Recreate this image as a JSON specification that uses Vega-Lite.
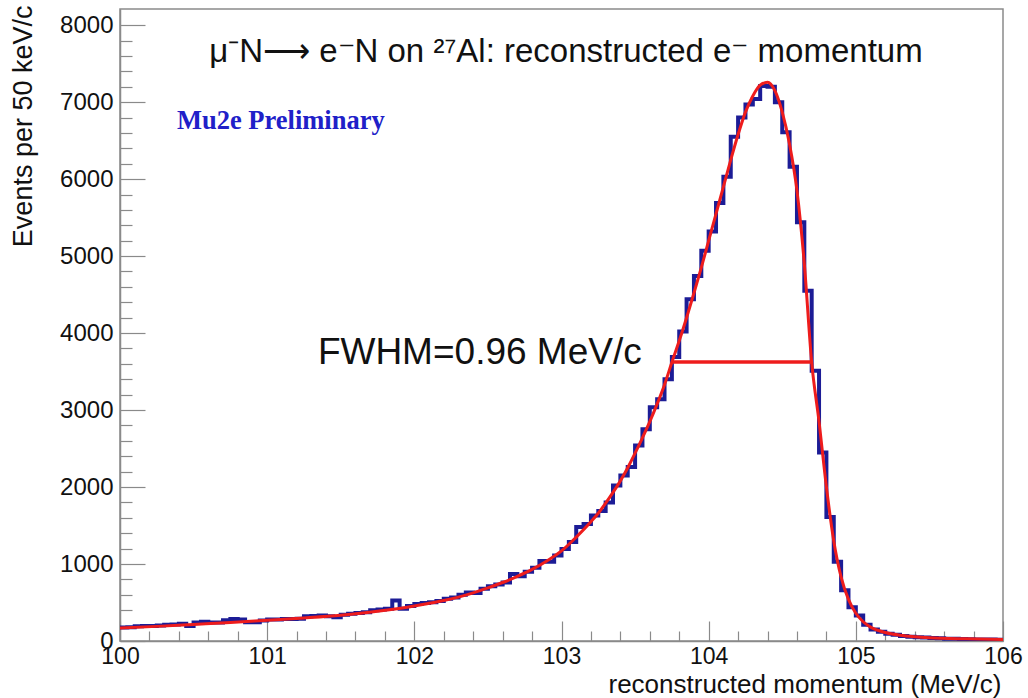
{
  "$schema": "https://vega.github.io/schema/vega-lite/v6.json",
  "width": 883,
  "height": 632,
  "autosize": {"type": "none"},
  "padding": {"left": 120, "top": 9, "right": 25, "bottom": 57},
  "background": "white",
  "config": {
    "view": {"stroke": "#8a8a8a", "strokeWidth": 1.5},
    "font": "Liberation Sans"
  },
  "datasets": {
    "hist": [
      {"p": 100.00, "n": 175}, {"p": 100.05, "n": 180}, {"p": 100.10, "n": 190}, {"p": 100.15, "n": 195},
      {"p": 100.20, "n": 195}, {"p": 100.25, "n": 200}, {"p": 100.30, "n": 210}, {"p": 100.35, "n": 215},
      {"p": 100.40, "n": 225}, {"p": 100.45, "n": 195}, {"p": 100.50, "n": 240}, {"p": 100.55, "n": 250},
      {"p": 100.60, "n": 240}, {"p": 100.65, "n": 240}, {"p": 100.70, "n": 270}, {"p": 100.75, "n": 285},
      {"p": 100.80, "n": 280}, {"p": 100.85, "n": 245}, {"p": 100.90, "n": 245}, {"p": 100.95, "n": 265},
      {"p": 101.00, "n": 280}, {"p": 101.05, "n": 280}, {"p": 101.10, "n": 285}, {"p": 101.15, "n": 285},
      {"p": 101.20, "n": 290}, {"p": 101.25, "n": 320}, {"p": 101.30, "n": 325}, {"p": 101.35, "n": 330},
      {"p": 101.40, "n": 320}, {"p": 101.45, "n": 310}, {"p": 101.50, "n": 340}, {"p": 101.55, "n": 355},
      {"p": 101.60, "n": 365}, {"p": 101.65, "n": 375}, {"p": 101.70, "n": 400}, {"p": 101.75, "n": 410},
      {"p": 101.80, "n": 420}, {"p": 101.85, "n": 525}, {"p": 101.90, "n": 420}, {"p": 101.95, "n": 455},
      {"p": 102.00, "n": 480}, {"p": 102.05, "n": 495}, {"p": 102.10, "n": 505}, {"p": 102.15, "n": 520},
      {"p": 102.20, "n": 550}, {"p": 102.25, "n": 565}, {"p": 102.30, "n": 600}, {"p": 102.35, "n": 630},
      {"p": 102.40, "n": 625}, {"p": 102.45, "n": 680}, {"p": 102.50, "n": 710}, {"p": 102.55, "n": 735},
      {"p": 102.60, "n": 760}, {"p": 102.65, "n": 870}, {"p": 102.70, "n": 840}, {"p": 102.75, "n": 900},
      {"p": 102.80, "n": 950}, {"p": 102.85, "n": 1040}, {"p": 102.90, "n": 1030}, {"p": 102.95, "n": 1110},
      {"p": 103.00, "n": 1195}, {"p": 103.05, "n": 1285}, {"p": 103.10, "n": 1480}, {"p": 103.15, "n": 1520},
      {"p": 103.20, "n": 1630}, {"p": 103.25, "n": 1690}, {"p": 103.30, "n": 1800}, {"p": 103.35, "n": 2020},
      {"p": 103.40, "n": 2150}, {"p": 103.45, "n": 2260}, {"p": 103.50, "n": 2540}, {"p": 103.55, "n": 2750},
      {"p": 103.60, "n": 3035}, {"p": 103.65, "n": 3140}, {"p": 103.70, "n": 3400}, {"p": 103.75, "n": 3690},
      {"p": 103.80, "n": 4020}, {"p": 103.85, "n": 4440}, {"p": 103.90, "n": 4740}, {"p": 103.95, "n": 5070},
      {"p": 104.00, "n": 5320}, {"p": 104.05, "n": 5690}, {"p": 104.10, "n": 6030}, {"p": 104.15, "n": 6550},
      {"p": 104.20, "n": 6800}, {"p": 104.25, "n": 6970}, {"p": 104.30, "n": 7040}, {"p": 104.35, "n": 7210},
      {"p": 104.40, "n": 7200}, {"p": 104.45, "n": 7000}, {"p": 104.50, "n": 6610}, {"p": 104.55, "n": 6160},
      {"p": 104.60, "n": 5440}, {"p": 104.65, "n": 4550}, {"p": 104.70, "n": 3510}, {"p": 104.75, "n": 2450},
      {"p": 104.80, "n": 1610}, {"p": 104.85, "n": 1030}, {"p": 104.90, "n": 660}, {"p": 104.95, "n": 440},
      {"p": 105.00, "n": 330}, {"p": 105.05, "n": 210}, {"p": 105.10, "n": 150}, {"p": 105.15, "n": 120},
      {"p": 105.20, "n": 95}, {"p": 105.25, "n": 80}, {"p": 105.30, "n": 65}, {"p": 105.35, "n": 55},
      {"p": 105.40, "n": 50}, {"p": 105.45, "n": 45}, {"p": 105.50, "n": 40}, {"p": 105.55, "n": 35},
      {"p": 105.60, "n": 30}, {"p": 105.65, "n": 28}, {"p": 105.70, "n": 25}, {"p": 105.75, "n": 22},
      {"p": 105.80, "n": 20}, {"p": 105.85, "n": 20}, {"p": 105.90, "n": 18}, {"p": 105.95, "n": 15},
      {"p": 106.00, "n": 15}
    ],
    "fit": [
      {"p": 100.0, "f": 170}, {"p": 100.25, "f": 190}, {"p": 100.5, "f": 215}, {"p": 100.75, "f": 240},
      {"p": 101.0, "f": 270}, {"p": 101.25, "f": 300}, {"p": 101.5, "f": 335}, {"p": 101.75, "f": 385},
      {"p": 102.0, "f": 455}, {"p": 102.1, "f": 490}, {"p": 102.2, "f": 525}, {"p": 102.3, "f": 570},
      {"p": 102.4, "f": 625}, {"p": 102.5, "f": 690}, {"p": 102.6, "f": 760}, {"p": 102.7, "f": 840},
      {"p": 102.8, "f": 930}, {"p": 102.9, "f": 1040}, {"p": 103.0, "f": 1170}, {"p": 103.1, "f": 1350},
      {"p": 103.2, "f": 1550}, {"p": 103.25, "f": 1660}, {"p": 103.3, "f": 1790}, {"p": 103.35, "f": 1930},
      {"p": 103.4, "f": 2080}, {"p": 103.45, "f": 2250}, {"p": 103.5, "f": 2440}, {"p": 103.55, "f": 2640},
      {"p": 103.6, "f": 2850}, {"p": 103.65, "f": 3080}, {"p": 103.7, "f": 3330}, {"p": 103.75, "f": 3620},
      {"p": 103.8, "f": 3900}, {"p": 103.85, "f": 4200}, {"p": 103.9, "f": 4520}, {"p": 103.95, "f": 4850},
      {"p": 104.0, "f": 5200}, {"p": 104.05, "f": 5550}, {"p": 104.1, "f": 5900}, {"p": 104.15, "f": 6250},
      {"p": 104.2, "f": 6580}, {"p": 104.25, "f": 6870}, {"p": 104.3, "f": 7080}, {"p": 104.35, "f": 7220},
      {"p": 104.4, "f": 7260}, {"p": 104.45, "f": 7150}, {"p": 104.5, "f": 6870}, {"p": 104.55, "f": 6450},
      {"p": 104.6, "f": 5850}, {"p": 104.65, "f": 4900}, {"p": 104.7, "f": 3620}, {"p": 104.75, "f": 2850},
      {"p": 104.8, "f": 2000}, {"p": 104.85, "f": 1300}, {"p": 104.9, "f": 830}, {"p": 104.95, "f": 540},
      {"p": 105.0, "f": 360}, {"p": 105.05, "f": 250}, {"p": 105.1, "f": 180}, {"p": 105.2, "f": 110},
      {"p": 105.3, "f": 75}, {"p": 105.4, "f": 55}, {"p": 105.5, "f": 42}, {"p": 105.75, "f": 28},
      {"p": 106.0, "f": 20}
    ],
    "fwhm": [{"lo": 103.754, "hi": 104.698, "half": 3625}]
  },
  "layer": [
    {
      "data": {"name": "hist"},
      "mark": {"type": "line", "interpolate": "step-after", "color": "#1c1c96", "strokeWidth": 4, "clip": true},
      "encoding": {
        "x": {
          "field": "p", "type": "quantitative",
          "scale": {"domain": [100, 106], "nice": false, "zero": false},
          "axis": {
            "values": [100, 100.2, 100.4, 100.6, 100.8, 101, 101.2, 101.4, 101.6, 101.8, 102, 102.2, 102.4, 102.6, 102.8, 103, 103.2, 103.4, 103.6, 103.8, 104, 104.2, 104.4, 104.6, 104.8, 105, 105.2, 105.4, 105.6, 105.8, 106],
            "tickCount": 200,
            "labelExpr": "abs(datum.value - round(datum.value)) < 0.001 ? format(datum.value, 'd') : ''",
            "tickSize": {"condition": {"test": "abs(datum.value - round(datum.value)) < 0.001", "value": -20}, "value": -10},
            "labelPadding": 24,
            "labelOverlap": false,
            "labelFlush": false,
            "labelFont": "Liberation Sans",
            "labelFontSize": 23,
            "labelColor": "#111",
            "domainColor": "#8a8a8a",
            "domainWidth": 1.5,
            "tickColor": "#8a8a8a",
            "tickWidth": 1.2,
            "grid": false,
            "title": "reconstructed momentum (MeV/c)",
            "titleFont": "Liberation Sans",
            "titleFontSize": 26,
            "titleFontWeight": "normal",
            "titleColor": "#111",
            "titleAlign": "right",
            "titleBaseline": "alphabetic",
            "titleX": 881,
            "titleY": 51
          }
        },
        "y": {
          "field": "n", "type": "quantitative",
          "scale": {"domain": [0, 8210], "nice": false},
          "axis": {
            "values": [0, 200, 400, 600, 800, 1000, 1200, 1400, 1600, 1800, 2000, 2200, 2400, 2600, 2800, 3000, 3200, 3400, 3600, 3800, 4000, 4200, 4400, 4600, 4800, 5000, 5200, 5400, 5600, 5800, 6000, 6200, 6400, 6600, 6800, 7000, 7200, 7400, 7600, 7800, 8000],
            "tickCount": 200,
            "labelExpr": "datum.value % 1000 === 0 ? format(datum.value, 'd') : ''",
            "tickSize": {"condition": {"test": "datum.value % 1000 === 0", "value": -25}, "value": -12},
            "labelPadding": 32,
            "labelOverlap": false,
            "labelFlush": false,
            "labelFont": "Liberation Sans",
            "labelFontSize": 24,
            "labelColor": "#111",
            "domainColor": "#8a8a8a",
            "domainWidth": 1.5,
            "tickColor": "#8a8a8a",
            "tickWidth": 1.2,
            "grid": false,
            "title": "Events per 50 keV/c",
            "titleFont": "Liberation Sans",
            "titleFontSize": 27,
            "titleFontWeight": "normal",
            "titleColor": "#111",
            "titleAngle": -90,
            "titleAlign": "right",
            "titleBaseline": "middle",
            "titleX": -97,
            "titleY": -4
          }
        }
      }
    },
    {
      "data": {"name": "fit"},
      "mark": {"type": "line", "interpolate": "monotone", "color": "#ee1c1c", "strokeWidth": 3, "clip": true},
      "encoding": {
        "x": {"field": "p", "type": "quantitative"},
        "y": {"field": "f", "type": "quantitative"}
      }
    },
    {
      "data": {"name": "fwhm"},
      "mark": {"type": "rule", "color": "#ee1c1c", "strokeWidth": 3.5},
      "encoding": {
        "x": {"field": "lo", "type": "quantitative"},
        "x2": {"field": "hi"},
        "y": {"field": "half", "type": "quantitative"}
      }
    },
    {
      "data": {"values": [{"label": "FWHM=0.96 MeV/c"}]},
      "mark": {"type": "text", "align": "right", "baseline": "middle", "font": "Liberation Sans", "fontSize": 37, "color": "#111"},
      "encoding": {
        "x": {"datum": 103.545, "type": "quantitative"},
        "y": {"datum": 3740, "type": "quantitative"},
        "text": {"field": "label"}
      }
    },
    {
      "data": {"values": [{"label": "μ⁻N⟶ e⁻N on ²⁷Al: reconstructed e⁻ momentum"}]},
      "mark": {"type": "text", "align": "center", "baseline": "middle", "font": "Liberation Sans", "fontSize": 33, "color": "#111"},
      "encoding": {
        "x": {"datum": 103.03, "type": "quantitative"},
        "y": {"datum": 7650, "type": "quantitative"},
        "text": {"field": "label"}
      }
    },
    {
      "data": {"values": [{"label": "Mu2e Preliminary"}]},
      "mark": {"type": "text", "align": "left", "baseline": "middle", "font": "Liberation Serif", "fontWeight": "bold", "fontSize": 26.5, "color": "#2020c8"},
      "encoding": {
        "x": {"datum": 100.387, "type": "quantitative"},
        "y": {"datum": 6750, "type": "quantitative"},
        "text": {"field": "label"}
      }
    }
  ]
}
